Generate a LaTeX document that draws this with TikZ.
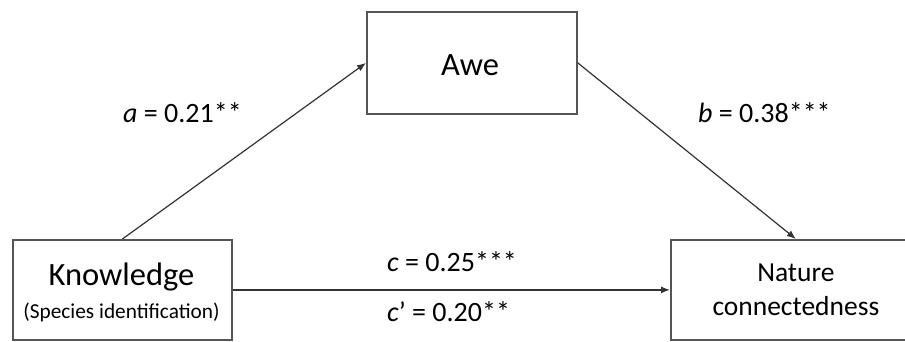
\documentclass[tikz,border=0pt]{standalone}
\usepackage{fontspec}
\setmainfont{Carlito}
\usetikzlibrary{arrows.meta}
\definecolor{boxline}{HTML}{555555}
\definecolor{arrline}{HTML}{333333}
\begin{document}
\begin{tikzpicture}[x=1pt,y=-1pt,
  boxnode/.style={draw=boxline, line width=1.8pt, inner sep=0pt, anchor=north west},
  conn/.style={draw=arrline, line width=1.2pt, -{Latex[length=9pt,width=7pt]}},
  lbl/.style={anchor=west, inner sep=0pt, font=\fontsize{28}{33}\selectfont}]
\useasboundingbox (0,0) rectangle (905,342);
\clip (0,0) rectangle (905,342);
\fill[white] (0,0) rectangle (905,342);
\node[boxnode, minimum width=219pt, minimum height=100pt] (know) at (12,239) {};
\node[boxnode, minimum width=210pt, minimum height=102pt] (awe) at (366,11) {};
\node[boxnode, minimum width=250pt, minimum height=100pt, align=center,
      font=\fontsize{27.5}{34}\selectfont] (nat) at (670,239) {Nature\\connectedness};
\node[font=\fontsize{32.5}{38}\selectfont, inner sep=0pt] (knowt) at (121.5,277) {Knowledge};
\node[font=\fontsize{21.3}{25}\selectfont, inner sep=0pt] (spec) at (121.5,312) {(Species identification)};
\node[font=\fontsize{32.5}{38}\selectfont, inner sep=0pt] (awet) at (470,65) {Awe};
\draw[conn] (know.north) -- (awe.west);
\draw[conn] (awe.east) -- (nat.north);
\draw[conn] (know.east) -- (nat.west);
\node[lbl] (la) at (123,113) {\textit{a} = 0.21**};
\node[lbl] (lb) at (698,113) {\textit{b} = 0.38***};
\node[lbl] (lc) at (387,262) {\textit{c} = 0.25***};
\node[lbl] (lcp) at (387,312) {\textit{c}’ = 0.20**};
\end{tikzpicture}
\end{document}
